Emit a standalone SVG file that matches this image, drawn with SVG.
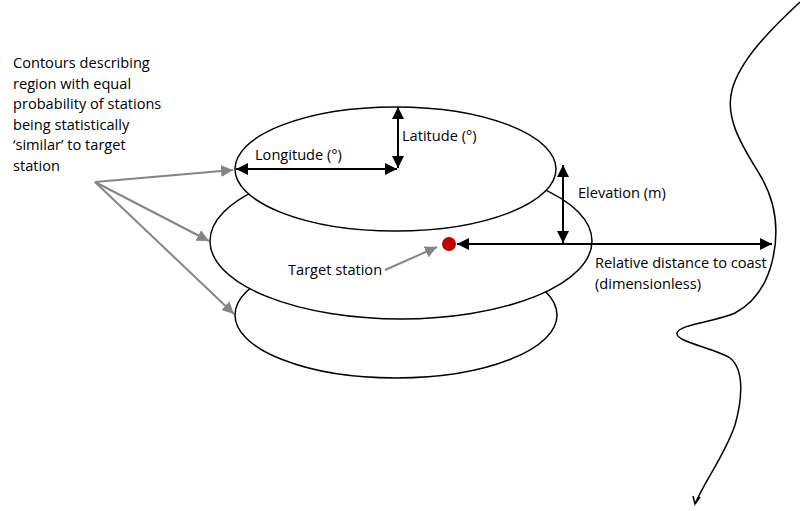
<svg xmlns="http://www.w3.org/2000/svg" width="800" height="511" viewBox="0 0 800 511">
<style>
text{font-family:"Open Sans","Liberation Sans",sans-serif;font-size:14.6px;fill:#000}
.ell{fill:#fff;stroke:#000;stroke-width:1.5}
.blk{stroke:#000;stroke-width:2;fill:none}
.gry{stroke:#858585;stroke-width:2;fill:none}
</style>
<defs>
<marker id="ah" viewBox="0 0 10 10" refX="10" refY="5" markerWidth="6" markerHeight="6" markerUnits="strokeWidth" orient="auto-start-reverse"><path d="M0,0L10,5L0,10z" fill="#000"/></marker>
<marker id="ag" viewBox="0 0 10 10" refX="10" refY="5" markerWidth="6" markerHeight="6" markerUnits="strokeWidth" orient="auto"><path d="M0,0L10,5L0,10z" fill="#858585"/></marker>
</defs>
<g id="coast"><path d="M800 2C770 30 740 60 732 90C724 120 745 150 760 175C775 200 780 230 772 262C765 290 750 305 735 313C715 322 680 324 677 333C675 342 715 348 730 358C745 370 742 400 735 425C725 455 705 480 695 504M693 496L695 504L700 497" fill="none" stroke="#000" stroke-width="1.5"/></g>
<g id="contour-bottom"><ellipse class="ell" cx="396" cy="315" rx="161" ry="63"/></g>
<g id="contour-middle"><ellipse class="ell" cx="401" cy="241" rx="191" ry="78"/></g>
<g id="contour-top"><ellipse class="ell" cx="395.5" cy="169" rx="160.5" ry="62"/></g>
<g id="target"><circle cx="449" cy="244" r="7" fill="#c00000"/><text x="288" y="275">Target station</text></g>
<g id="note"><text x="13" y="68">Contours describing</text><text x="13" y="89">region with equal</text><text x="13" y="109">probability of stations</text><text x="13" y="130">being statistically</text><text x="13" y="150">‘similar’ to target</text><text x="13" y="171">station</text></g>
<g id="labels">
<text x="402" y="141">Latitude (°)</text>
<text x="255" y="160">Longitude (°)</text>
<text x="578" y="198">Elevation (m)</text>
<text x="595" y="268">Relative distance to coast</text>
<text x="595" y="289">(dimensionless)</text>
</g>
<g id="connectors">
<line class="blk" x1="236" y1="169" x2="397" y2="169" marker-start="url(#ah)" marker-end="url(#ah)"/>
<line class="blk" x1="398" y1="107" x2="398" y2="168" marker-start="url(#ah)" marker-end="url(#ah)"/>
<line class="blk" x1="563" y1="165" x2="563" y2="243" marker-start="url(#ah)" marker-end="url(#ah)"/>
<line class="blk" x1="457" y1="244" x2="772" y2="244" marker-start="url(#ah)" marker-end="url(#ah)"/>
<line class="gry" x1="95" y1="182" x2="233" y2="170" marker-end="url(#ag)"/>
<line class="gry" x1="95" y1="182" x2="209" y2="241" marker-end="url(#ag)"/>
<line class="gry" x1="95" y1="182" x2="234" y2="314" marker-end="url(#ag)"/>
<line class="gry" x1="385" y1="270" x2="437" y2="247" marker-end="url(#ag)"/>
</g>
</svg>
